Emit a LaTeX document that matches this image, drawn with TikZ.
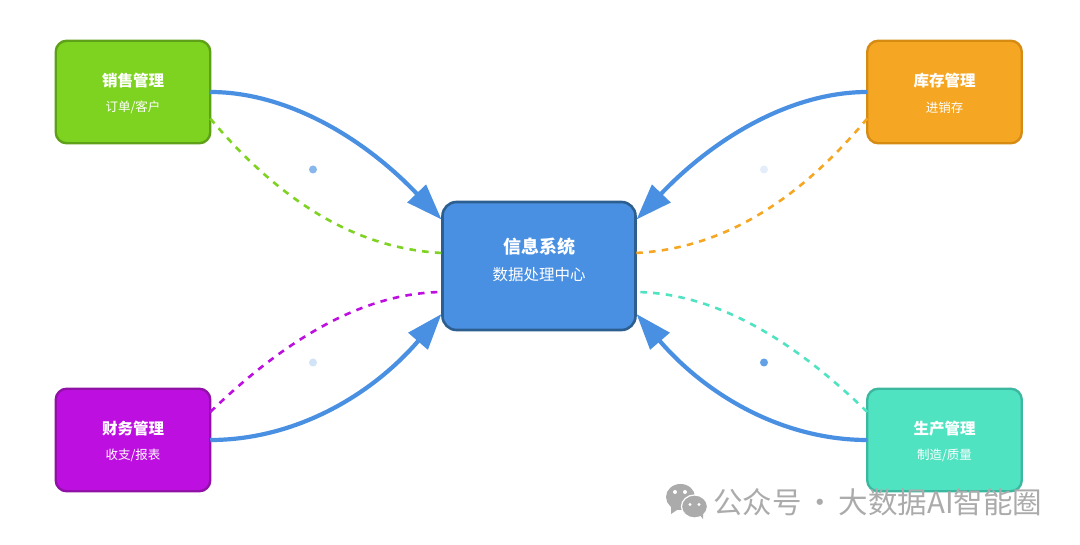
\documentclass[tikz,border=0pt]{standalone}
\usepackage{fontspec}
\setmainfont{Noto Sans CJK SC}
\usetikzlibrary{arrows.meta,calc}
\definecolor{flow}{HTML}{4A90E2}
\definecolor{flowd}{HTML}{2C5F8F}
\definecolor{cgreen}{HTML}{7ED321}\definecolor{dgreen}{HTML}{5EA018}
\definecolor{corange}{HTML}{F5A623}\definecolor{dorange}{HTML}{D68B12}
\definecolor{cpurple}{HTML}{BD10E0}\definecolor{dpurple}{HTML}{9010A8}
\definecolor{cteal}{HTML}{50E3C2}\definecolor{dteal}{HTML}{3DB8A0}
\definecolor{wm}{HTML}{ABABAB}
\tikzset{
 modbox/.style={draw=#1,line width=2.4pt,rounded corners=11pt,minimum width=154.5pt,minimum height=102.5pt,inner sep=0pt,outer sep=0pt},
 corebox/.style={draw=flowd,fill=flow,line width=2.6pt,rounded corners=14pt,minimum width=193pt,minimum height=128pt,inner sep=0pt,outer sep=0pt},
 flowline/.style={draw=flow,line width=4.2pt,-{Triangle[length=36pt,width=25pt]}},
 dashline/.style={line width=2.6pt,dash pattern=on 6.5pt off 6.3pt},
 pulse/.style={circle,fill=flow,minimum size=8pt,inner sep=0pt,opacity=#1},
 mtitle/.style={text=white,inner sep=0pt,font=\fontsize{15.5}{18}\selectfont\bfseries},
 msub/.style={text=white,inner sep=0pt,font=\fontsize{12.5}{14}\selectfont},
 ctitle/.style={text=white,inner sep=0pt,font=\fontsize{18}{20}\selectfont\bfseries},
 csub/.style={text=white,inner sep=0pt,font=\fontsize{15.5}{17}\selectfont},
}
\begin{document}
\begin{tikzpicture}[x=1pt,y=-1pt]
\useasboundingbox (0,0) rectangle (1080,545);
\fill[white] (0,0) rectangle (1080,545);
\node[corebox] (core) at (539,266) {};
\node[modbox=dgreen,fill=cgreen] (sales) at (133,92) {};
\node[modbox=dorange,fill=corange] (stock) at (944.5,92) {};
\node[modbox=dpurple,fill=cpurple] (finance) at (133,440) {};
\node[modbox=dteal,fill=cteal] (prod) at (944.5,440) {};
% labels
\node[ctitle] (coreT) at ($(core)+(0,-19)$) {信息系统};
\node[csub] (coreS) at ($(core)+(0,8.5)$) {数据处理中心};
\node[mtitle] (salesT) at ($(sales)+(0,-11)$) {销售管理};
\node[msub] (salesS) at ($(sales)+(0,15.5)$) {订单/客户};
\node[mtitle] (stockT) at ($(stock)+(0,-11)$) {库存管理};
\node[msub] (stockS) at ($(stock)+(0,15.5)$) {进销存};
\node[mtitle] (financeT) at ($(finance)+(0,-11)$) {财务管理};
\node[msub] (financeS) at ($(finance)+(0,15.5)$) {收支/报表};
\node[mtitle] (prodT) at ($(prod)+(0,-11)$) {生产管理};
\node[msub] (prodS) at ($(prod)+(0,15.5)$) {制造/质量};
% flows
\draw[flowline] (sales.east) .. controls (283.7,92) and (360.3,134.5) .. ($(core.west)+(-1,-46.5)$);
\draw[flowline] (stock.west) .. controls (794.3,92) and (717.7,134.5) .. ($(core.east)+(1,-46.5)$);
\draw[flowline] (finance.east) .. controls (292.3,440) and (369,398) .. ($(core.west)+(-1,48)$);
\draw[flowline] (prod.west) .. controls (785.7,440) and (709,398) .. ($(core.east)+(1,48)$);
% dashed
\draw[dashline,draw=cgreen] ($(sales.east)+(0,26.5)$) .. controls (282.3,204.2) and (359,249) .. ($(core.west)+(0,-13)$);
\draw[dashline,draw=corange] ($(stock.west)+(0,26.5)$) .. controls (795.7,204.2) and (719,249) .. ($(core.east)+(0,-13)$);
\draw[dashline,draw=cpurple] ($(finance.east)+(0,-28)$) .. controls (292.3,332.7) and (369,292.7) .. ($(core.west)+(0,26)$);
\draw[dashline,draw=cteal] ($(prod.west)+(0,-28)$) .. controls (785.7,332.7) and (709,292.7) .. ($(core.east)+(0,26)$);
% dots
\node[pulse=0.65] (d1) at (313,169.5) {};
\node[pulse=0.15] (d2) at (764,169.5) {};
\node[pulse=0.25] (d3) at (313,362.5) {};
\node[pulse=0.85] (d4) at (764,362.5) {};
% watermark
\fill[wm] (680.5,497) ellipse (14.5pt and 13pt);
\fill[wm] (671,506) -- (671,514) -- (680,508) -- cycle;
\fill[white] (675,492) circle (2pt) (685,492) circle (2pt);
\fill[wm,draw=white,line width=1.2pt] (694.5,506.5) ellipse (13pt and 11.5pt);
\fill[wm] (699,514) -- (703,519) -- (703,512) -- cycle;
\fill[white] (690,504.5) circle (1.7pt) (699,504.5) circle (1.7pt);
\node[text=wm,anchor=west,inner sep=0pt,font=\fontsize{29.5}{32}\selectfont] (mark) at (713,502.5) {公众号\hspace{4pt}·\hspace{3.5pt}大数据AI智能圈};
\end{tikzpicture}
\end{document}
